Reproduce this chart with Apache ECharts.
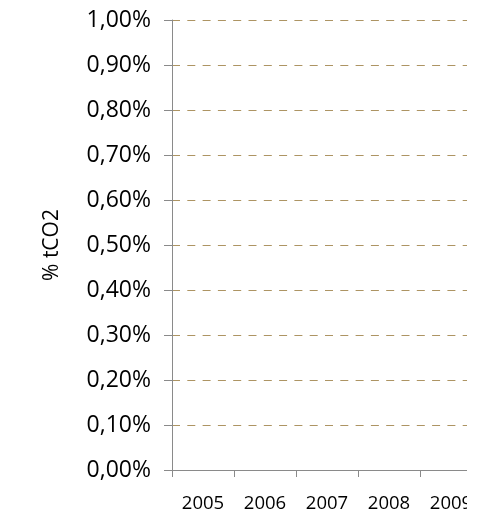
<!DOCTYPE html>
<html>
<head>
<meta charset="utf-8">
<script src="https://cdn.jsdelivr.net/npm/echarts@6/dist/echarts.min.js"></script>
<style>
  html, body { margin: 0; padding: 0; background: #fff; }
  #frame { width: 467px; height: 515px; overflow: hidden; }
  #chart { width: 487px; height: 515px; }
</style>
</head>
<body>
<div id="frame"><div id="chart"></div></div>
<script>
// Years on the category axis
const years = ['2005', '2006', '2007', '2008', '2009'];
// Share of tCO2 per year (no values recorded)
const shareValues = [null, null, null, null, null];
// Value axis range and step (fractions, shown as percentages)
const yMin = 0;
const yMax = 0.01;
const yStep = 0.001;

const chart = echarts.init(document.getElementById('chart'), null, { renderer: 'canvas' });

chart.setOption({
  animation: false,
  backgroundColor: '#ffffff',
  grid: { left: 172, top: 20, bottom: 45, right: 5, containLabel: false },
  xAxis: {
    type: 'category',
    data: years,
    boundaryGap: true,
    axisLine: { show: true, lineStyle: { color: '#8a8a8a', width: 1 } },
    axisTick: { show: true, length: 7, alignWithLabel: false, lineStyle: { color: '#8a8a8a' } },
    axisLabel: {
      margin: 24,
      color: '#000',
      fontFamily: 'Open Sans',
      fontSize: 18.5
    },
    splitLine: { show: false }
  },
  yAxis: {
    type: 'value',
    min: yMin,
    max: yMax,
    interval: yStep,
    name: '% tCO2',
    nameLocation: 'middle',
    nameRotate: 90,
    nameGap: 109,
    nameTextStyle: { color: '#000', fontFamily: 'Open Sans', fontSize: 21 },
    axisLine: { show: true, lineStyle: { color: '#8a8a8a', width: 1 } },
    axisTick: { show: true, length: 8, lineStyle: { color: '#8a8a8a' } },
    axisLabel: {
      margin: 21,
      color: '#000',
      fontFamily: 'Open Sans',
      fontSize: 23,
      formatter: v => (v * 100).toFixed(2).replace('.', ',') + '%'
    },
    splitLine: {
      show: true,
      lineStyle: { color: '#ad9463', width: 1, type: [8, 7.3] }
    }
  },
  series: [{
    name: '% tCO2',
    type: 'line',
    data: shareValues,
    showSymbol: false
  }]
});
</script>
</body>
</html>
